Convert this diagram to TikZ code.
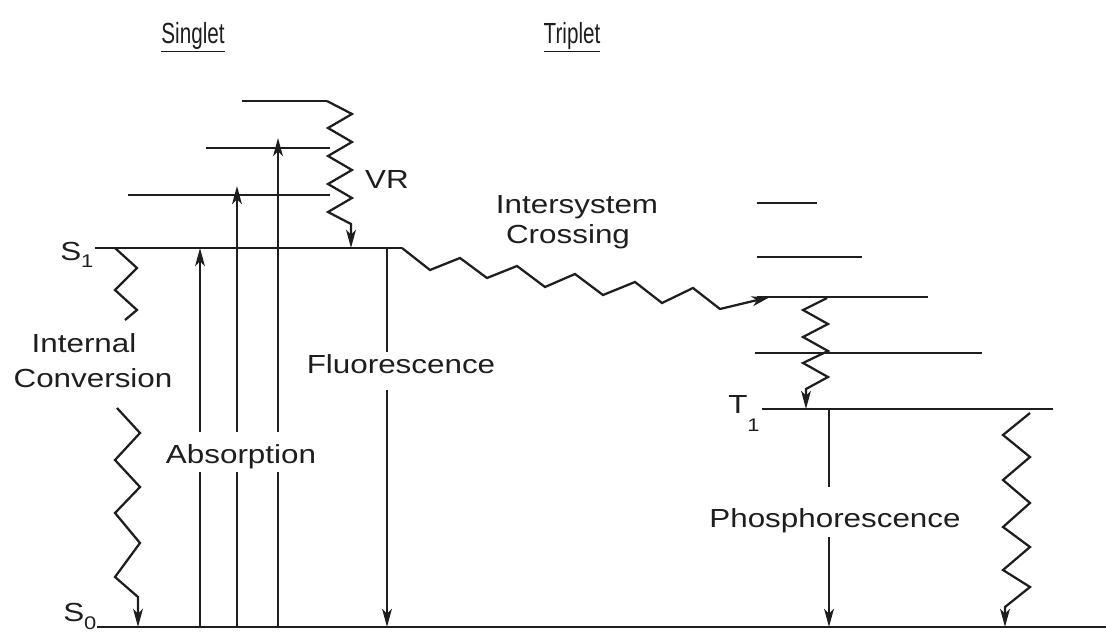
\documentclass[tikz,border=0pt]{standalone}
\usepackage{fontspec}
\setmainfont[FakeStretch=1.2]{Liberation Sans}
\newfontfamily\titolofont[FakeStretch=0.71]{Liberation Sans}
\usetikzlibrary{arrows.meta}

% Pedice abbassato per i nomi dei livelli
\newcommand{\pedice}[2][5pt]{\raisebox{-#1}{\fontsize{13}{13}\selectfont #2}}

\begin{document}
\begin{tikzpicture}[x=0.025cm, y=-0.025cm,
  livello/.style={draw=colLinea, line width=1.6pt},
  freccia/.style={draw=colLinea, line width=1.6pt, -{Stealth[length=13pt,width=7pt,inset=3.5pt]}},
  testo/.style={text=colLinea, font=\fontsize{18.6}{22}\selectfont, inner sep=0pt},
  taglio/.style={testo, fill=white, anchor=base},
  titolo/.style={text=colLinea, font=\titolofont\fontsize{20.7}{24}\selectfont, inner sep=0pt, anchor=base}]

% Colore delle linee
\definecolor{colLinea}{HTML}{1E1E1E}

% Contorno
\useasboundingbox (0,0) rectangle (1106,632);
\clip (0,0) rectangle (1106,632);

% Titoli
\node[titolo] (sing) at (193,43) {\underline{Singlet}};
\node[titolo] (trip) at (572,43) {\underline{Triplet}};

% Livelli di singoletto
\draw[livello] (242,101) -- (327,101);
\draw[livello] (206,148) -- (330,148);
\draw[livello] (128,195) -- (330,195);
\draw[livello] (95,248) -- (402,248);
\draw[livello] (97,627) -- (1106,627);

% Livelli di tripletto
\draw[livello] (757,203) -- (817,203);
\draw[livello] (757,257) -- (862,257);
\draw[livello] (757,297) -- (928,297);
\draw[livello] (755,353) -- (982,353);
\draw[livello] (762,409) -- (1053,409);

% Nomi dei livelli
\node[testo, anchor=base west] (s1) at (60,260) {S\pedice{1}};
\node[testo, anchor=base west] (s0) at (63,621) {S\pedice[6pt]{0}};
\node[testo, anchor=base west] (t1) at (728,413) {T\pedice[13.5pt]{1}};

% Punti di partenza e arrivo
\coordinate (ass1a) at (200,627);
\coordinate (ass1b) at (200,248);
\coordinate (ass2a) at (237,627);
\coordinate (ass2b) at (237,186);
\coordinate (ass3a) at (278,627);
\coordinate (ass3b) at (278,138);
\coordinate (fluoA) at (387,248);
\coordinate (fluoB) at (387,627);
\coordinate (fosA) at (829,409);
\coordinate (fosB) at (829,627);
\coordinate (vrA) at (327,101);
\coordinate (vrB) at (351,248);
\coordinate (icA) at (115,248);
\coordinate (icC) at (117,408);
\coordinate (icB) at (138,627);
\coordinate (iscA) at (402,248);
\coordinate (iscB) at (770,297);
\coordinate (vrtA) at (827,298);
\coordinate (vrtB) at (806,409);
\coordinate (nrA) at (1030,413);
\coordinate (nrB) at (1005,627);

% Assorbimento
\draw[freccia] (ass1a) -- (ass1b);
\draw[freccia] (ass2a) -- (ass2b);
\draw[freccia] (ass3a) -- (ass3b);

% Fluorescenza e fosforescenza
\draw[freccia] (fluoA) -- (fluoB);
\draw[freccia] (fosA) -- (fosB);

% Rilassamento vibrazionale (singoletto)
\draw[freccia] (vrA) -- (352,114) -- (328,128) -- (352,142) -- (328,156)
  -- (352,170) -- (328,184) -- (352,198) -- (328,212) -- (351,224) -- (vrB);

% Conversione interna
\draw[livello] (icA) -- (137,268) -- (115,290) -- (137,310) -- (125,320);
\draw[freccia] (icC) -- (140,433) -- (115,460) -- (140,487) -- (115,513)
  -- (140,543) -- (115,577) -- (138,597) -- (icB);

% Incrocio intersistema
\draw[freccia] (iscA) -- (430,270) -- (460,258) -- (487,278) -- (517,266)
  -- (545,287) -- (575,274) -- (603,295) -- (635,282) -- (662,303)
  -- (693,288) -- (720,309) -- (iscB);

% Rilassamento vibrazionale (tripletto)
\draw[freccia] (vrtA) -- (803,310) -- (828,324) -- (803,337) -- (828,351)
  -- (803,363) -- (828,377) -- (806,389) -- (vrtB);

% Decadimento non radiativo da T1
\draw[freccia] (nrA) -- (1003,435) -- (1030,457) -- (1003,480) -- (1030,503)
  -- (1003,527) -- (1030,547) -- (1003,570) -- (1030,587) -- (1005,607) -- (nrB);

% Etichette
\node[testo, anchor=base] (vr) at (387,188) {VR};
\node[testo, anchor=base] (isc1) at (577,213) {Intersystem};
\node[testo, anchor=base] (isc2) at (568,243) {Crossing};
\node[testo, anchor=base] (ic1) at (84,352) {Internal};
\node[testo, anchor=base] (ic2) at (93,387) {Conversion};
\node[taglio, text height=22pt, text depth=6.4pt] (ass) at (241,463) {Absorption};
\node[taglio, text height=15pt, text depth=12pt] (fluo) at (401,373) {Fluorescence};
\node[taglio, text height=28.5pt, text depth=7pt] (fos) at (835,527) {Phosphorescence};

\end{tikzpicture}
\end{document}
